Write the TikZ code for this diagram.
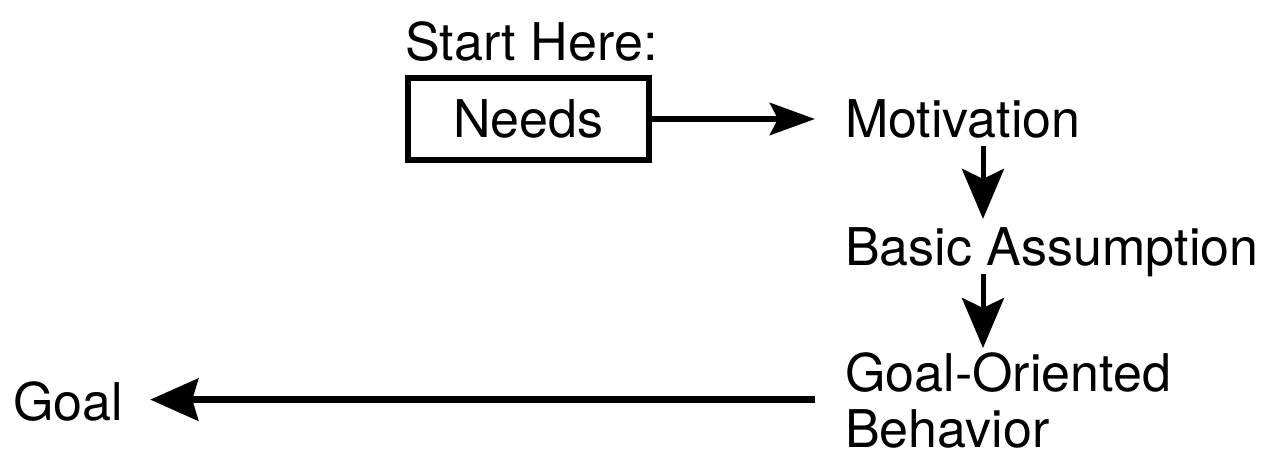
\documentclass[tikz,border=0pt]{standalone}
\usepackage{fontspec}
\setmainfont{TeX Gyre Heros}
\usetikzlibrary{arrows.meta}
\begin{document}
\begin{tikzpicture}[x=1pt,y=-1pt,
  every node/.style={inner sep=0pt,font=\fontsize{52pt}{56pt}\selectfont},
  label/.style={anchor=base west},
  needbox/.style={draw,line width=6pt,minimum width=241pt,minimum height=82pt},
  flow/.style={line width=5pt},
  hflow/.style={line width=6.5pt},
  downtip/.style={-{Stealth[length=50pt,width=42pt,inset=10pt]}},
  righttip/.style={-{Stealth[length=45pt,width=32pt,inset=8pt]}},
  lefttip/.style={-{Stealth[length=48pt,width=42pt,inset=6pt]}}]
\useasboundingbox (0,0) rectangle (1274,453);

\node[label] (start) at (405,60) {Start Here:};
\node[needbox] (needs) at (528.5,119) {Needs};
\node[label] (motiv) at (845,137) {Motivation};
\node[label] (basic) at (845,265) {Basic Assumption};
\node[label,anchor=north west,align=left,text depth=0pt] (gob) at (845,352) {Goal-Oriented\\Behavior};
\node[label] (goal) at (13,420) {Goal};

\coordinate (ax) at (983,0);

\draw[hflow,righttip,shorten >=30pt] (needs.east) -- (needs.east -| motiv.west);
\draw[flow,downtip,shorten <=8pt,shorten >=8pt] (motiv.south -| ax) -- (basic.north -| ax);
\draw[flow,downtip,shorten <=-3pt,shorten >=4pt] (basic.south -| ax) -- (gob.north -| ax);
\draw[hflow,lefttip,shorten <=30pt,shorten >=27pt] (gob.west) -- (gob.west -| goal.east);
\end{tikzpicture}
\end{document}
